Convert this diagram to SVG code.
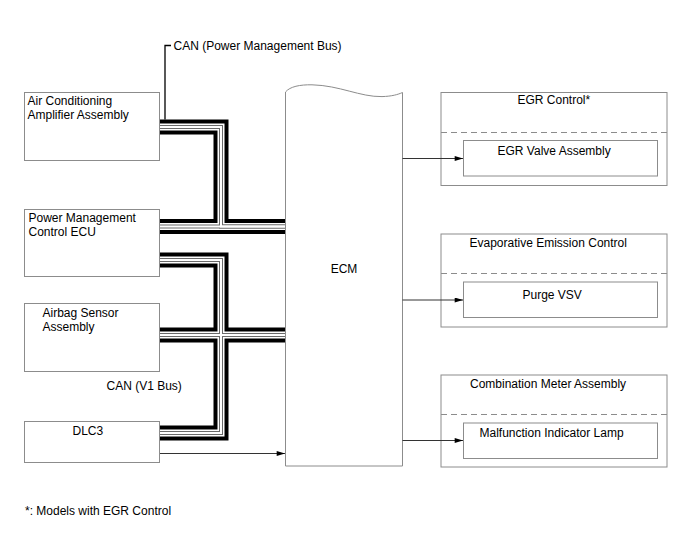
<svg xmlns="http://www.w3.org/2000/svg" xmlns:xlink="http://www.w3.org/1999/xlink" width="688" height="560" viewBox="0 0 688 560">
<style>
.box{fill:#fff;stroke:#8c8c8c;stroke-width:1}
.t{font-family:"Liberation Sans",Arial,sans-serif;font-size:12px;fill:#000}
.dash{stroke:#8c8c8c;stroke-width:1;stroke-dasharray:6 4;fill:none}
.arr{stroke:#333;stroke-width:1;fill:none;marker-end:url(#ah)}
.b1{stroke:#000;stroke-width:15;fill:none;stroke-linejoin:miter}
.b2{stroke:#fff;stroke-width:7;fill:none;stroke-linejoin:miter}
.b3{stroke:#6a6a6a;stroke-width:4;fill:none;stroke-linejoin:miter}
.b4{stroke:#fff;stroke-width:2;fill:none;stroke-linejoin:miter}
.lead{stroke:#000;stroke-width:1.3;fill:none}
</style>
<defs>
<marker id="ah" viewBox="0 0 10 6" refX="10" refY="3" markerWidth="9" markerHeight="5" markerUnits="userSpaceOnUse" orient="auto">
<path d="M0,0 L10,3 L0,6 z" fill="#000"/>
</marker>
<path id="pa" d="M160,127 H221 V226.5 H285"/>
<path id="pb" d="M160,226.5 H285"/>
<path id="pc" d="M160,260 H221 V433 H160"/>
<path id="pd" d="M160,335 H285"/>
</defs>

<g id="ac">
<rect class="box" x="24.5" y="92.5" width="135" height="68"/>
<text class="t" x="27.5" y="104.5">Air Conditioning</text>
<text class="t" x="27.5" y="118.5">Amplifier Assembly</text>
</g>
<g id="pm">
<rect class="box" x="24.5" y="209.5" width="135" height="67"/>
<text class="t" x="28.5" y="221.5">Power Management</text>
<text class="t" x="28.5" y="235.5">Control ECU</text>
</g>
<g id="airbag">
<rect class="box" x="24.5" y="303.5" width="135" height="68"/>
<text class="t" x="42.5" y="316.5">Airbag Sensor</text>
<text class="t" x="42.5" y="330.5">Assembly</text>
</g>
<g id="dlc3">
<rect class="box" x="24.5" y="421.5" width="135" height="41"/>
<text class="t" x="72.5" y="434.5">DLC3</text>
</g>
<g id="ecm">
<path class="box" d="M285.5,466 L285.5,92 C290,86.5 300,84.6 312,84.8 C340,85.5 360,97 382,96.6 C392,96.3 398,94.5 402.5,92.5 L402.5,466 Z"/>
<text class="t" x="344" y="273" text-anchor="middle">ECM</text>
</g>
<g id="egr">
<rect class="box" x="441" y="92.5" width="226" height="93"/>
<line class="dash" x1="441" y1="132.5" x2="667" y2="132.5"/>
<text class="t" x="517.5" y="103.5">EGR Control*</text>
<g id="egrvalve">
<rect class="box" x="463.5" y="140.5" width="194" height="35.5"/>
<text class="t" x="497.5" y="154.5">EGR Valve Assembly</text>
</g>
</g>
<g id="evap">
<rect class="box" x="441" y="234" width="226" height="93"/>
<line class="dash" x1="441" y1="273.5" x2="667" y2="273.5"/>
<text class="t" x="469.5" y="247">Evaporative Emission Control</text>
<g id="purge">
<rect class="box" x="463.5" y="282" width="194" height="35.5"/>
<text class="t" x="522.5" y="298.5">Purge VSV</text>
</g>
</g>
<g id="comb">
<rect class="box" x="441" y="375" width="226" height="92"/>
<line class="dash" x1="441" y1="414.5" x2="667" y2="414.5"/>
<text class="t" x="470" y="388">Combination Meter Assembly</text>
<g id="mil">
<rect class="box" x="463.5" y="423" width="194" height="35.5"/>
<text class="t" x="479.5" y="437">Malfunction Indicator Lamp</text>
</g>
</g>

<g id="connectors">
<use xlink:href="#pa" class="b1"/><use xlink:href="#pb" class="b1"/>
<use xlink:href="#pa" class="b2"/><use xlink:href="#pb" class="b2"/>
<use xlink:href="#pa" class="b3"/><use xlink:href="#pb" class="b3"/>
<use xlink:href="#pa" class="b4"/><use xlink:href="#pb" class="b4"/>
<use xlink:href="#pc" class="b1"/><use xlink:href="#pd" class="b1"/>
<use xlink:href="#pc" class="b2"/><use xlink:href="#pd" class="b2"/>
<use xlink:href="#pc" class="b3"/><use xlink:href="#pd" class="b3"/>
<use xlink:href="#pc" class="b4"/><use xlink:href="#pd" class="b4"/>
<path class="lead" d="M171,45.5 H165 V119.5"/>
<line class="arr" x1="402.5" y1="158.5" x2="463" y2="158.5"/>
<line class="arr" x1="402.5" y1="300" x2="463" y2="300"/>
<line class="arr" x1="402.5" y1="440.5" x2="463" y2="440.5"/>
<line class="arr" x1="160" y1="453.5" x2="285" y2="453.5"/>
</g>

<text class="t" x="173.5" y="49.5">CAN (Power Management Bus)</text>
<text class="t" x="106.5" y="389.5">CAN (V1 Bus)</text>
<text class="t" x="25" y="515">*: Models with EGR Control</text>
</svg>
